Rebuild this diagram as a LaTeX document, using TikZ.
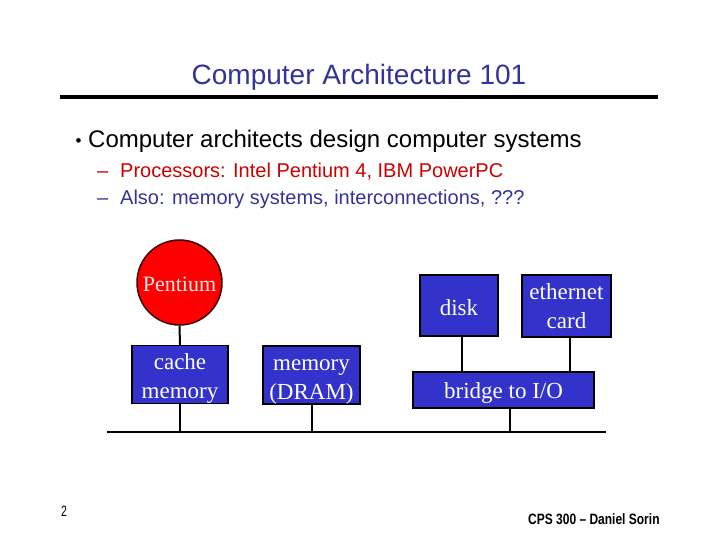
\documentclass[tikz,border=0pt]{standalone}
\usepackage{fontspec}
\setmainfont{Liberation Serif}
\setsansfont{Liberation Sans}
\definecolor{titleblue}{RGB}{51,51,153}
\definecolor{subred}{RGB}{204,0,0}
\definecolor{boxblue}{RGB}{51,51,204}
\definecolor{cpured}{RGB}{255,0,0}
\definecolor{cpuedge}{RGB}{60,0,0}
\definecolor{cputext}{RGB}{255,232,232}
\begin{document}
\begin{tikzpicture}[x=1pt,y=-1pt,
  box/.style={draw=black,line width=1.5pt,fill=boxblue,text=white,inner sep=0pt,align=center,font=\fontsize{23}{29}\selectfont},
  wire/.style={line width=2pt},
  txt/.style={inner sep=0pt,anchor=base west,font=\sffamily}]
\newcommand{\upstrut}[1][24pt]{\rule{0pt}{#1}}
\useasboundingbox (0,0) rectangle (720,540);
% title
\node[inner sep=0pt,anchor=base,font=\sffamily\fontsize{28}{30}\selectfont,text=titleblue] (title) at (359,85) {Computer Architecture 101};
\draw[line width=4pt] (60,97) -- (658,97);
% bullets
\node[txt,font=\sffamily\fontsize{17}{18}\selectfont] (b1dot) at (75.5,146.5) {\textbullet};
\node[txt,font=\sffamily\fontsize{24}{26}\selectfont] (b1) at (88,148) {Computer architects design computer systems};
\node[txt,font=\sffamily\fontsize{20}{22}\selectfont,text=subred] (s1dash) at (97,178) {--};
\node[txt,font=\sffamily\fontsize{20}{22}\selectfont,text=subred] (s1) at (120,178) {Processors: Intel Pentium 4, IBM PowerPC};
\node[txt,font=\sffamily\fontsize{20}{22}\selectfont,text=titleblue] (s2dash) at (97,205) {--};
\node[txt,font=\sffamily\fontsize{20}{22}\selectfont,text=titleblue] (s2) at (120,205) {Also: memory systems, interconnections, ???};
% diagram
\node[circle,draw=cpuedge,line width=1.5pt,fill=cpured,minimum size=85,inner sep=0pt,text=cputext,font=\fontsize{22}{26}\selectfont] (cpu) at (179.5,282.5) {\upstrut[19pt]Pentium};
\node[box,minimum width=96,minimum height=55] (cache) at (180,374.5) {\upstrut cache\\memory};
\node[box,minimum width=97,minimum height=56] (dram) at (311.5,375) {\upstrut memory\\(DRAM)};
\node[box,minimum width=78,minimum height=61] (disk) at (459,305.5) {\upstrut[21pt]disk};
\node[box,minimum width=89,minimum height=62] (eth) at (566.5,306) {\upstrut[16pt]ethernet\\card};
\node[box,minimum width=181,minimum height=36] (bridge) at (503.5,390) {\upstrut[22pt]bridge to I/O};
\coordinate (busL) at (107,432);
\coordinate (busR) at (606,432);
\draw[wire] (busL) -- (busR);
\draw[wire] (cpu.south) -- (cache.north);
\draw[wire] (cache.south) -- (cache.south |- busL);
\draw[wire] (dram.south) -- (dram.south |- busL);
\draw[wire] ([xshift=6.5pt]bridge.south) -- ([xshift=6.5pt]bridge.south |- busL);
\draw[wire] ([xshift=2.5pt]disk.south) -- ([xshift=2.5pt]disk.south |- bridge.north);
\draw[wire] ([xshift=3.5pt]eth.south) -- ([xshift=3.5pt]eth.south |- bridge.north);
% footer
\node[txt,font=\sffamily\fontsize{15}{16}\selectfont] (pnum) at (61,516) {\scalebox{0.7}[1]{2}};
\node[txt,font=\sffamily\bfseries\fontsize{15}{16}\selectfont] (author) at (528,524) {\scalebox{0.8}[1]{CPS 300 -- Daniel Sorin}};
\end{tikzpicture}
\end{document}
